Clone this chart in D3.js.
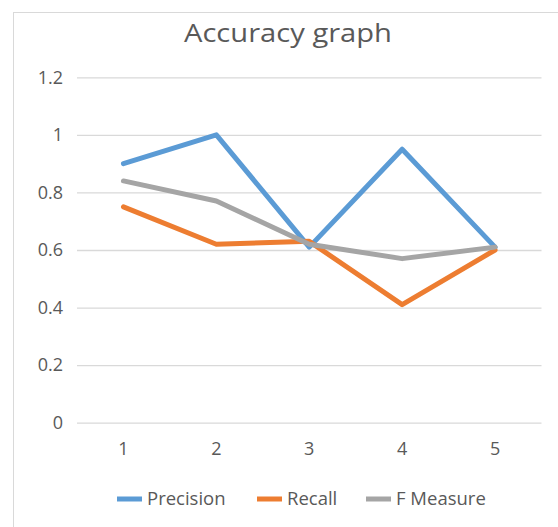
<!DOCTYPE html>
<html>
<head>
<meta charset="utf-8">
<script src="https://cdn.jsdelivr.net/npm/d3@7"></script>
<style>
  html, body { margin: 0; padding: 0; background: #fff; }
  svg { display: block; }
  text { font-family: "Open Sans", "Noto Sans", sans-serif; fill: #595959; }
</style>
</head>
<body>
<script>
const categories = ["1", "2", "3", "4", "5"];
const precision = [0.90, 1.00, 0.61, 0.95, 0.61];
const recall    = [0.75, 0.62, 0.63, 0.41, 0.60];
const fMeasure  = [0.84, 0.77, 0.62, 0.57, 0.61];
const seriesNames = ["Precision", "Recall", "F Measure"];
const seriesColors = ["#5B9BD5", "#ED7D31", "#A5A5A5"];
const yTicks = [0, 0.2, 0.4, 0.6, 0.8, 1, 1.2];
const title = "Accuracy graph";

const W = 558, H = 527;
const svg = d3.select("body").append("svg").attr("width", W).attr("height", H);

// chart area border (cropped on right/bottom)
svg.append("rect")
  .attr("x", 13.5).attr("y", 12.5).attr("width", 700).attr("height", 700)
  .attr("fill", "#fff").attr("stroke", "#D9D9D9").attr("stroke-width", 1);

const plot = { left: 77, right: 541.5, top: 77.3, bottom: 422.7 };

const x = d3.scaleBand().domain(categories).range([plot.left, plot.right]);
const y = d3.scaleLinear().domain([0, 1.2]).range([plot.bottom, plot.top]);

// gridlines
const yAxis = d3.axisLeft(y).tickValues(yTicks).tickSize(-(plot.right - plot.left)).tickPadding(14)
  .tickFormat(d => d3.format("~g")(d));
const gy = svg.append("g").attr("transform", `translate(${plot.left},0)`).call(yAxis);
gy.select(".domain").remove();
gy.selectAll(".tick line").attr("stroke", "#D9D9D9").attr("stroke-width", 1.3);
gy.selectAll(".tick text").attr("font-size", 18).attr("fill", "#595959")
  .attr("font-family", "'Open Sans', sans-serif");

// x axis labels
const xAxis = d3.axisBottom(x).tickSize(0).tickPadding(20);
const gx = svg.append("g").attr("transform", `translate(0,${plot.bottom})`).call(xAxis);
gx.select(".domain").remove();
gx.selectAll(".tick text").attr("font-size", 18).attr("fill", "#595959")
  .attr("font-family", "'Open Sans', sans-serif");

// lines
const allSeries = [precision, recall, fMeasure];
const line = d3.line()
  .x((d, i) => x(categories[i]) + x.bandwidth() / 2)
  .y(d => y(d));

allSeries.forEach((s, k) => {
  svg.append("path")
    .datum(s)
    .attr("d", line)
    .attr("fill", "none")
    .attr("stroke", seriesColors[k])
    .attr("stroke-width", 5)
    .attr("stroke-linejoin", "round")
    .attr("stroke-linecap", "round");
});

// title
svg.append("text")
  .attr("x", 288).attr("y", 42)
  .attr("text-anchor", "middle")
  .attr("font-size", 25)
  .attr("textLength", 208)
  .attr("lengthAdjust", "spacingAndGlyphs")
  .text(title);

// legend
const legendX = [117, 257, 366];
const legendY = 499;
seriesNames.forEach((n, k) => {
  const g = svg.append("g").attr("transform", `translate(${legendX[k]},${legendY})`);
  g.append("line").attr("x1", 0).attr("x2", 25).attr("y1", 0).attr("y2", 0)
    .attr("stroke", seriesColors[k]).attr("stroke-width", 5);
  g.append("text").attr("x", 30).attr("y", 0).attr("dy", "0.35em")
    .attr("font-size", 18.5).text(n);
});
</script>
</body>
</html>
